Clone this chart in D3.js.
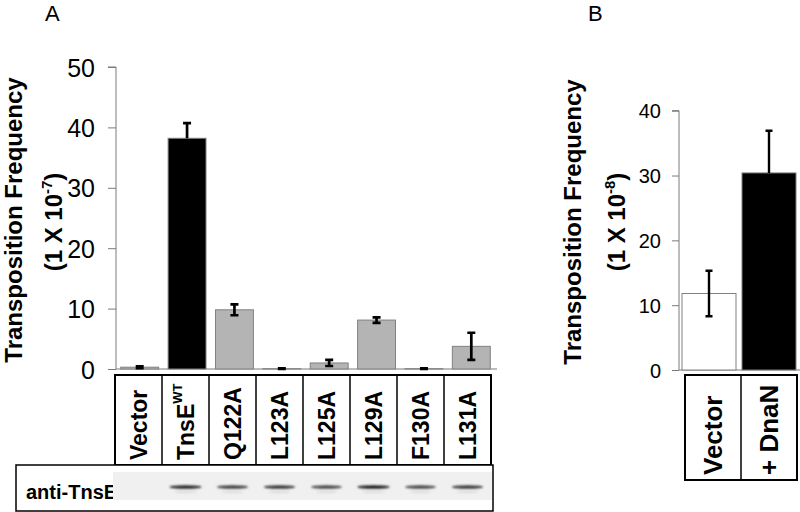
<!DOCTYPE html>
<html><head><meta charset="utf-8">
<script src="https://cdn.jsdelivr.net/npm/d3@7"></script>
<style>
html,body{margin:0;padding:0;background:#fff;}
svg{display:block;font-family:"Liberation Sans",Arial,sans-serif;}
</style></head>
<body><svg id="c" width="800" height="512"></svg>
<script>
// ---- Data ----
const catsA = ["Vector", "TnsE", "Q122A", "L123A", "L125A", "L129A", "F130A", "L131A"];
const supA = ["", "WT", "", "", "", "", "", ""];
const valsA = [0.3, 38.2, 9.8, 0.05, 1.0, 8.1, 0.05, 3.75];
const errA = [0.15, 2.5, 0.9, 0.05, 0.5, 0.45, 0.05, 2.25];
const fillA = ["#b4b4b4", "#000000", "#b4b4b4", "#b4b4b4", "#b4b4b4", "#b4b4b4", "#b4b4b4", "#b4b4b4"];
const blotA = [0, 0.9, 0.75, 0.8, 0.7, 0.95, 0.7, 0.78];
const ticksA = [0, 10, 20, 30, 40, 50];

const catsB = ["Vector", "+ DnaN"];
const valsB = [11.8, 30.4];
const errB = [3.5, 6.5];
const fillB = ["#ffffff", "#000000"];
const ticksB = [0, 10, 20, 30, 40];

const svg = d3.select("#c");

const defs = svg.append("defs");
defs.append("filter").attr("id", "blur").attr("x", "-20%").attr("y", "-100%").attr("width", "140%").attr("height", "300%")
  .append("feGaussianBlur").attr("stdDeviation", "1.2 0.8");

// ---------- Panel A ----------
const xA = d3.scaleBand().domain(catsA).range([116, 495]).paddingInner(0.2).paddingOuter(0.1);
const yA = d3.scaleLinear().domain([0, 50]).range([369, 67]);
const gA = svg.append("g");

svg.append("text").attr("x", 45).attr("y", 21).attr("font-size", 22).text("A");

const axA = gA.append("g").attr("transform", "translate(116,0)")
  .call(d3.axisLeft(yA).tickValues(ticksA).tickSize(8).tickPadding(13).tickFormat(d3.format("d")));
axA.select(".domain").attr("stroke", "#7a7a7a").attr("d", `M-8,${yA(50)}H0V${yA(0)}`);
axA.selectAll(".tick line").attr("stroke", "#7a7a7a");
axA.selectAll(".tick text").attr("font-size", 25).attr("font-family", "Liberation Sans, Arial").attr("fill", "#000").attr("dy", "0.36em");
gA.append("line").attr("x1", 116).attr("x2", 497).attr("y1", yA(0)).attr("y2", yA(0)).attr("stroke", "#7a7a7a");

gA.selectAll("rect.bar").data(catsA).join("rect").attr("class", "bar")
  .attr("x", d => xA(d)).attr("width", xA.bandwidth())
  .attr("y", (d, i) => yA(valsA[i])).attr("height", (d, i) => yA(0) - yA(valsA[i]))
  .attr("fill", (d, i) => fillA[i]).attr("stroke", "#808080").attr("stroke-width", 1);

const capA = 4;
catsA.forEach((d, i) => {
  const cx = xA(d) + xA.bandwidth() / 2;
  const hi = valsA[i] + errA[i], lo = Math.max(0, valsA[i] - errA[i]);
  const isBlack = fillA[i] === "#000000";
  const y2 = isBlack ? yA(valsA[i]) : yA(lo);
  const p = d3.path();
  p.moveTo(cx, yA(hi)); p.lineTo(cx, y2);
  p.moveTo(cx - capA, yA(hi)); p.lineTo(cx + capA, yA(hi));
  if (!isBlack) { p.moveTo(cx - capA, yA(lo)); p.lineTo(cx + capA, yA(lo)); }
  gA.append("path").attr("d", p.toString()).attr("stroke", "#000").attr("stroke-width", 2.7).attr("fill", "none");
});

const tA = gA.append("text").attr("transform", "translate(21.5,220) rotate(-90)")
  .attr("text-anchor", "middle").attr("font-weight", "bold").attr("font-size", 24);
tA.text("Transposition Frequency");
const tA2 = gA.append("text").attr("transform", "translate(62,222) rotate(-90)")
  .attr("text-anchor", "middle").attr("font-weight", "bold").attr("font-size", 24);
tA2.append("tspan").text("(1 X 10");
tA2.append("tspan").attr("font-size", 15).attr("dy", "-0.7em").text("-7");
tA2.append("tspan").attr("dy", "0.45em").text(")");

const tbA = d3.scaleBand().domain(catsA).range([115, 491]);
gA.append("rect").attr("x", 115).attr("y", 375).attr("width", 376).attr("height", 90)
  .attr("fill", "none").attr("stroke", "#000").attr("stroke-width", 2);
catsA.slice(1).forEach(d => {
  gA.append("line").attr("x1", tbA(d)).attr("x2", tbA(d)).attr("y1", 375).attr("y2", 465)
    .attr("stroke", "#000").attr("stroke-width", 1.5);
});
catsA.forEach((d, i) => {
  const cx = tbA(d) + tbA.bandwidth() / 2 + 8;
  const t = gA.append("text").attr("transform", `translate(${cx},460) rotate(-90)`)
    .attr("font-weight", "bold").attr("font-size", 23).attr("text-anchor", "start");
  t.append("tspan").text(d);
  if (supA[i]) t.append("tspan").attr("font-size", 13).attr("dy", "-0.85em").text(supA[i]);
});

gA.append("rect").attr("x", 16).attr("y", 465).attr("width", 477).attr("height", 46)
  .attr("fill", "#fff").attr("stroke", "#000").attr("stroke-width", 1.5);
gA.append("text").attr("x", 26).attr("y", 499).attr("font-weight", "bold").attr("font-size", 20).text("anti-TnsE");
gA.append("rect").attr("x", 113).attr("y", 472).attr("width", 379).attr("height", 28).attr("fill", "#f0f0f0");
catsA.forEach((d, i) => {
  if (!blotA[i]) return;
  const cx = tbA(d) + tbA.bandwidth() / 2;
  const w = 31 * (0.85 + 0.2 * blotA[i]);
  const c = Math.round(20 + 255 * (1 - blotA[i]) * 0.7);
  gA.append("ellipse").attr("cx", cx).attr("cy", 487).attr("rx", w / 2).attr("ry", 1.7)
    .attr("fill", d3.rgb(c, c, c)).attr("filter", "url(#blur)");
  gA.append("ellipse").attr("cx", cx).attr("cy", 492).attr("rx", w / 2.8).attr("ry", 1)
    .attr("fill", "#dadada").attr("filter", "url(#blur)");
});

// ---------- Panel B ----------
const xB = d3.scaleBand().domain(catsB).range([679, 799]).paddingInner(0.1).paddingOuter(0.05);
const yB = d3.scaleLinear().domain([0, 40]).range([370, 110.7]);
const gB = svg.append("g");

svg.append("text").attr("x", 588).attr("y", 21).attr("font-size", 22).text("B");

const axB = gB.append("g").attr("transform", "translate(679,0)")
  .call(d3.axisLeft(yB).tickValues(ticksB).tickSize(7).tickPadding(11).tickFormat(d3.format("d")));
axB.select(".domain").attr("stroke", "#7a7a7a").attr("d", `M-7,${yB(40)}H0V${yB(0)}`);
axB.selectAll(".tick line").attr("stroke", "#7a7a7a");
axB.selectAll(".tick text").attr("font-size", 20).attr("font-family", "Liberation Sans, Arial").attr("fill", "#000").attr("dy", "0.36em");
gB.append("line").attr("x1", 679).attr("x2", 800).attr("y1", yB(0)).attr("y2", yB(0)).attr("stroke", "#7a7a7a");

gB.selectAll("rect.bar").data(catsB).join("rect").attr("class", "bar")
  .attr("x", d => xB(d)).attr("width", xB.bandwidth())
  .attr("y", (d, i) => yB(valsB[i])).attr("height", (d, i) => yB(0) - yB(valsB[i]))
  .attr("fill", (d, i) => fillB[i]).attr("stroke", "#808080").attr("stroke-width", 1);

const capB = 3.5;
catsB.forEach((d, i) => {
  const cx = xB(d) + xB.bandwidth() / 2;
  const hi = valsB[i] + errB[i], lo = valsB[i] - errB[i];
  const isBlack = fillB[i] === "#000000";
  const y2 = isBlack ? yB(valsB[i]) : yB(lo);
  const p = d3.path();
  p.moveTo(cx, yB(hi)); p.lineTo(cx, y2);
  p.moveTo(cx - capB, yB(hi)); p.lineTo(cx + capB, yB(hi));
  if (!isBlack) { p.moveTo(cx - capB, yB(lo)); p.lineTo(cx + capB, yB(lo)); }
  gB.append("path").attr("d", p.toString()).attr("stroke", "#000").attr("stroke-width", 2.4).attr("fill", "none");
});

const tB = gB.append("text").attr("transform", "translate(581,222) rotate(-90)")
  .attr("text-anchor", "middle").attr("font-weight", "bold").attr("font-size", 24);
tB.text("Transposition Frequency");
const tB2 = gB.append("text").attr("transform", "translate(625,222) rotate(-90)")
  .attr("text-anchor", "middle").attr("font-weight", "bold").attr("font-size", 24);
tB2.append("tspan").text("(1 X 10");
tB2.append("tspan").attr("font-size", 15).attr("dy", "-0.7em").text("-8");
tB2.append("tspan").attr("dy", "0.45em").text(")");

const tbB = d3.scaleBand().domain(catsB).range([685, 797]);
gB.append("rect").attr("x", 685).attr("y", 375).attr("width", 112).attr("height", 105)
  .attr("fill", "none").attr("stroke", "#000").attr("stroke-width", 2);
gB.append("line").attr("x1", tbB(catsB[1])).attr("x2", tbB(catsB[1])).attr("y1", 375).attr("y2", 480)
  .attr("stroke", "#000").attr("stroke-width", 1.5);
catsB.forEach(d => {
  const cx = tbB(d) + tbB.bandwidth() / 2 + 9;
  gB.append("text").attr("transform", `translate(${cx},475) rotate(-90)`)
    .attr("font-weight", "bold").attr("font-size", 26).attr("text-anchor", "start").text(d);
});
</script></body></html>
